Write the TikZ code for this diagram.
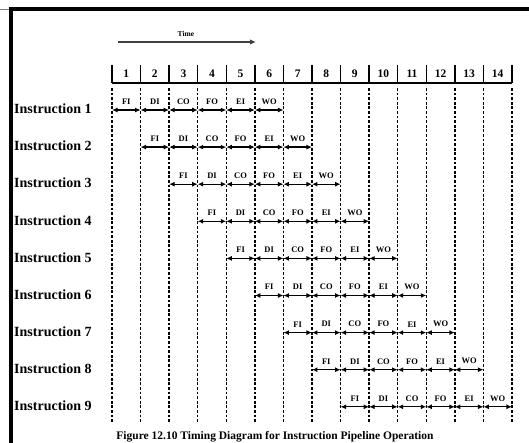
\documentclass[tikz,border=0pt]{standalone}
\usepackage{fontspec}
\setmainfont{Liberation Serif}
\usetikzlibrary{arrows.meta}

\tikzset{
	stagearrow/.style={line width=1.2pt, {Latex[length=5.5pt,width=5pt]}-{Latex[length=5.5pt,width=5pt]}},
	stagelabel/.style={font=\bfseries\fontsize{8.5}{10}\selectfont, inner sep=0pt, above=5pt},
	cyclebound/.style={line width=1.4pt, dash pattern=on 2.8pt off 1.8pt},
	instrlabel/.style={font=\bfseries\fontsize{14}{16}\selectfont, anchor=west, inner sep=0pt},
	cyclenum/.style={font=\bfseries\fontsize{11.5}{13}\selectfont, inner sep=0pt}
}

\begin{document}
\begin{tikzpicture}[x=1pt, y=-1pt]
	\useasboundingbox (0,0) rectangle (529,443);
	\clip (0,0) rectangle (529,443);

	% outer frame, only the top and left edges show
	\draw[line width=4.5pt] (10.8,443) -- (10.8,9) -- (529,9);
	\draw[line width=0.6pt, gray] (0,9) -- (9,9);

	% time axis
	\coordinate (t0) at (118,42);
	\coordinate (t1) at (256,42);
	\draw[line width=1.3pt, black!75, -{Latex[length=6pt,width=5.5pt]}] (t0) -- (t1);
	\node[font=\bfseries\fontsize{7.5}{8}\selectfont] (time) at (186,34) {Time};

	% clock cycle boxes
	\foreach \k in {0,...,14}
		\coordinate (b\k) at ({112+28.57*\k},83);
	\draw[line width=1.4pt] (b0) -- (b14);
	\foreach \k in {0,...,14}
		\draw[line width=1.4pt] (b\k) -- ++(0,-18);
	\foreach \k [evaluate=\k as \n using int(\k+1)] in {0,...,13}
		\node[cyclenum] (cyc\n) at ({126.3+28.57*\k},74) {\n};

	% cycle boundaries
	\foreach \k in {0,...,14}
		\draw[cyclebound] ([yshift=-5pt]b\k) -- ([yshift=-339pt]b\k);

	% one row per instruction, six stages each
	\foreach \i in {1,...,9} {
		\pgfmathsetmacro{\ry}{110+37.1*(\i-1)}
		\node[instrlabel] (ins\i) at (14,\ry-1) {Instruction \i};
		\foreach \s [count=\j from 0] in {FI,DI,CO,FO,EI,WO} {
			\pgfmathtruncatemacro{\a}{\i-1+\j}
			\pgfmathtruncatemacro{\b}{\i+\j}
			\coordinate (p\i-\a) at ({112+28.57*\a},\ry);
			\coordinate (p\i-\b) at ({112+28.57*\b},\ry);
			\draw[stagearrow] (p\i-\a) -- node[stagelabel] {\s} (p\i-\b);
		}
	}

	% caption along the lower edge
	\node[font=\bfseries\fontsize{11.5}{13}\selectfont, anchor=base, inner sep=0pt] (caption) at (275,439) {Figure 12.10 Timing Diagram for Instruction Pipeline Operation};
\end{tikzpicture}
\end{document}
